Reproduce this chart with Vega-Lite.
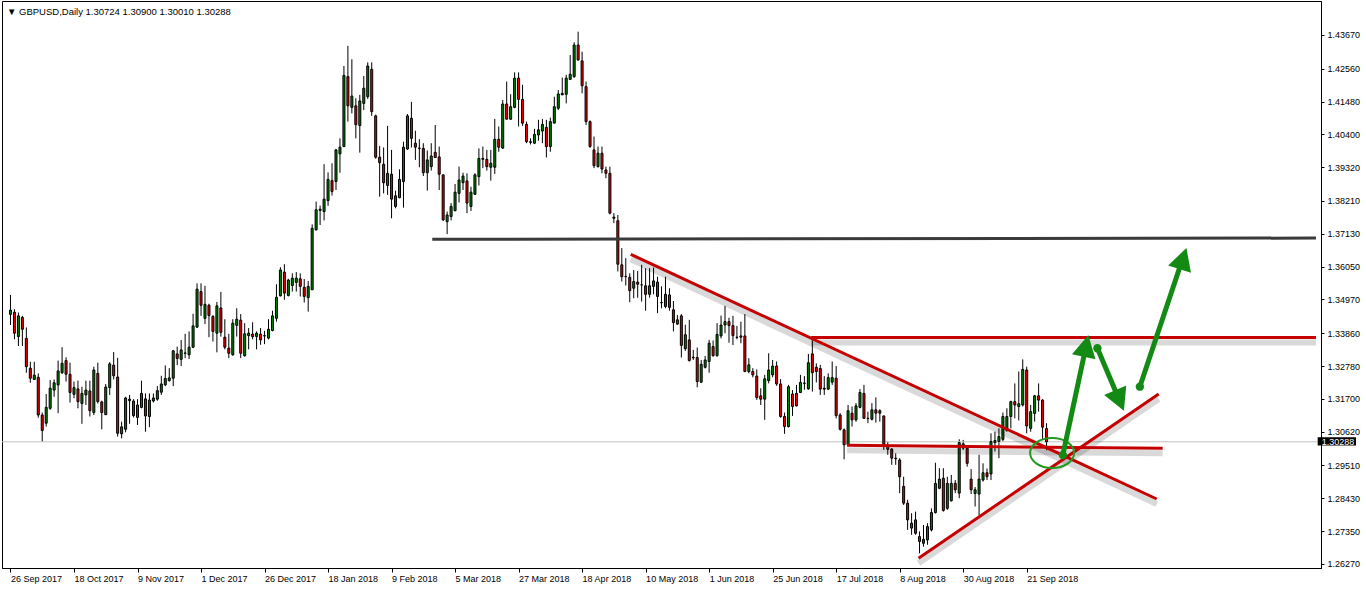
{
"$schema": "https://vega.github.io/schema/vega-lite/v6.json",
"width": 1319, "height": 567,
"autosize": {"type": "none"},
"padding": {"left": 2, "top": 1, "right": 45, "bottom": 21},
"background": "white",
"title": {"text": "▼  GBPUSD,Daily  1.30724 1.30900 1.30010 1.30288", "anchor": "start", "frame": "group", "orient": "top", "offset": -20, "baseline": "middle", "font": "Liberation Sans", "fontSize": 9.5, "fontWeight": "normal", "color": "black", "dx": 5},
"config": {"view": {"stroke": "black", "strokeWidth": 1}, "axis": {"labelFont": "Liberation Sans", "labelFontSize": 9, "labelColor": "black", "domainColor": "black", "tickColor": "black", "grid": false, "title": null, "labelOverlap": false, "labelFlush": false, "labelBound": false}},
"datasets": {
"candles": [
{"i":0,"o":1.3448,"h":1.3512,"l":1.3413,"c":1.3462},{"i":1,"o":1.3455,"h":1.3465,"l":1.3366,"c":1.3386},{"i":2,"o":1.3375,"h":1.3454,"l":1.3344,"c":1.3443},{"i":3,"o":1.3438,"h":1.3443,"l":1.3344,"c":1.3399},{"i":4,"o":1.3369,"h":1.3405,"l":1.3256,"c":1.3276},{"i":5,"o":1.3271,"h":1.3292,"l":1.3223,"c":1.3238},{"i":6,"o":1.3234,"h":1.3292,"l":1.3232,"c":1.3248},{"i":7,"o":1.3241,"h":1.3254,"l":1.3108,"c":1.3117},{"i":8,"o":1.3117,"h":1.3125,"l":1.3029,"c":1.3066},{"i":9,"o":1.309,"h":1.3186,"l":1.3079,"c":1.3142},
{"i":10,"o":1.3139,"h":1.3232,"l":1.3134,"c":1.3205},{"i":11,"o":1.3199,"h":1.3234,"l":1.3177,"c":1.3223},{"i":12,"o":1.3216,"h":1.3296,"l":1.3123,"c":1.3262},{"i":13,"o":1.3256,"h":1.334,"l":1.3252,"c":1.3287},{"i":14,"o":1.3296,"h":1.3307,"l":1.3227,"c":1.3251},{"i":15,"o":1.3251,"h":1.3289,"l":1.3158,"c":1.3191},{"i":16,"o":1.3185,"h":1.3227,"l":1.3172,"c":1.3207},{"i":17,"o":1.3203,"h":1.323,"l":1.3139,"c":1.3161},{"i":18,"o":1.3155,"h":1.321,"l":1.3088,"c":1.3188},{"i":19,"o":1.3183,"h":1.323,"l":1.315,"c":1.3199},
{"i":20,"o":1.3196,"h":1.323,"l":1.3112,"c":1.3131},{"i":21,"o":1.3125,"h":1.3276,"l":1.3117,"c":1.3265},{"i":22,"o":1.3254,"h":1.3289,"l":1.3155,"c":1.3161},{"i":23,"o":1.316,"h":1.3164,"l":1.307,"c":1.3125},{"i":24,"o":1.3118,"h":1.3219,"l":1.3117,"c":1.3209},{"i":25,"o":1.3207,"h":1.3291,"l":1.3183,"c":1.3285},{"i":26,"o":1.3281,"h":1.3324,"l":1.3234,"c":1.3246},{"i":27,"o":1.3242,"h":1.3305,"l":1.3046,"c":1.3057},{"i":28,"o":1.3055,"h":1.3095,"l":1.304,"c":1.3078},{"i":29,"o":1.307,"h":1.3177,"l":1.306,"c":1.3173},
{"i":30,"o":1.3164,"h":1.3183,"l":1.3088,"c":1.3169},{"i":31,"o":1.3163,"h":1.3169,"l":1.3109,"c":1.3115},{"i":32,"o":1.3109,"h":1.3169,"l":1.3084,"c":1.315},{"i":33,"o":1.3142,"h":1.323,"l":1.3139,"c":1.3188},{"i":34,"o":1.317,"h":1.3188,"l":1.3062,"c":1.3114},{"i":35,"o":1.3112,"h":1.3188,"l":1.3077,"c":1.3166},{"i":36,"o":1.3163,"h":1.3188,"l":1.3158,"c":1.3173},{"i":37,"o":1.3169,"h":1.3212,"l":1.3164,"c":1.3197},{"i":38,"o":1.3192,"h":1.3246,"l":1.3183,"c":1.3219},{"i":39,"o":1.3216,"h":1.328,"l":1.3212,"c":1.3237},
{"i":40,"o":1.323,"h":1.3271,"l":1.3227,"c":1.3239},{"i":41,"o":1.3238,"h":1.3331,"l":1.3212,"c":1.3328},{"i":42,"o":1.3318,"h":1.3342,"l":1.3281,"c":1.3303},{"i":43,"o":1.33,"h":1.3364,"l":1.3278,"c":1.3331},{"i":44,"o":1.332,"h":1.3384,"l":1.3304,"c":1.3321},{"i":45,"o":1.3315,"h":1.3392,"l":1.3301,"c":1.334},{"i":46,"o":1.334,"h":1.345,"l":1.3337,"c":1.341},{"i":47,"o":1.3406,"h":1.355,"l":1.3403,"c":1.3531},{"i":48,"o":1.3523,"h":1.355,"l":1.3443,"c":1.3478},{"i":49,"o":1.3435,"h":1.3542,"l":1.3416,"c":1.3481},
{"i":50,"o":1.3478,"h":1.3483,"l":1.3373,"c":1.3444},{"i":51,"o":1.3441,"h":1.3446,"l":1.3359,"c":1.3392},{"i":52,"o":1.3386,"h":1.3489,"l":1.3323,"c":1.3476},{"i":53,"o":1.3469,"h":1.3522,"l":1.3375,"c":1.3389},{"i":54,"o":1.3373,"h":1.3432,"l":1.3333,"c":1.334},{"i":55,"o":1.3337,"h":1.3384,"l":1.3304,"c":1.332},{"i":56,"o":1.3315,"h":1.3432,"l":1.3312,"c":1.3419},{"i":57,"o":1.3412,"h":1.3468,"l":1.3375,"c":1.3432},{"i":58,"o":1.3429,"h":1.3449,"l":1.3304,"c":1.332},{"i":59,"o":1.3312,"h":1.3419,"l":1.3309,"c":1.3384},
{"i":60,"o":1.3378,"h":1.3403,"l":1.3333,"c":1.3386},{"i":61,"o":1.3383,"h":1.3422,"l":1.3366,"c":1.3375},{"i":62,"o":1.3375,"h":1.3392,"l":1.3333,"c":1.3386},{"i":63,"o":1.3383,"h":1.3403,"l":1.3348,"c":1.3364},{"i":64,"o":1.3377,"h":1.3394,"l":1.335,"c":1.3378},{"i":65,"o":1.337,"h":1.3432,"l":1.3366,"c":1.3399},{"i":66,"o":1.3395,"h":1.346,"l":1.3392,"c":1.3443},{"i":67,"o":1.3435,"h":1.3547,"l":1.3424,"c":1.3504},{"i":68,"o":1.3509,"h":1.3603,"l":1.3507,"c":1.3594},{"i":69,"o":1.3587,"h":1.3613,"l":1.3496,"c":1.3518},
{"i":70,"o":1.351,"h":1.3565,"l":1.3507,"c":1.3561},{"i":71,"o":1.3543,"h":1.3583,"l":1.3523,"c":1.3567},{"i":72,"o":1.3553,"h":1.3587,"l":1.3523,"c":1.3567},{"i":73,"o":1.3565,"h":1.3583,"l":1.3507,"c":1.354},{"i":74,"o":1.3537,"h":1.3564,"l":1.3487,"c":1.3507},{"i":75,"o":1.3503,"h":1.3558,"l":1.3457,"c":1.354},{"i":76,"o":1.3529,"h":1.3744,"l":1.3528,"c":1.3731},{"i":77,"o":1.3726,"h":1.3819,"l":1.3724,"c":1.3792},{"i":78,"o":1.379,"h":1.3806,"l":1.3742,"c":1.3794},{"i":79,"o":1.3786,"h":1.3942,"l":1.3757,"c":1.3827},
{"i":80,"o":1.3822,"h":1.3915,"l":1.3805,"c":1.3892},{"i":81,"o":1.3888,"h":1.3945,"l":1.3839,"c":1.3852},{"i":82,"o":1.3885,"h":1.3992,"l":1.3857,"c":1.3989},{"i":83,"o":1.3976,"h":1.4027,"l":1.3914,"c":1.3998},{"i":84,"o":1.4,"h":1.4265,"l":1.3998,"c":1.4234},{"i":85,"o":1.423,"h":1.4331,"l":1.4082,"c":1.4134},{"i":86,"o":1.4129,"h":1.4287,"l":1.4109,"c":1.4166},{"i":87,"o":1.4134,"h":1.4159,"l":1.4027,"c":1.4072},{"i":88,"o":1.4069,"h":1.417,"l":1.398,"c":1.415},{"i":89,"o":1.4142,"h":1.4232,"l":1.412,"c":1.4192},
{"i":90,"o":1.4164,"h":1.4277,"l":1.4157,"c":1.4265},{"i":91,"o":1.4254,"h":1.4277,"l":1.4101,"c":1.4115},{"i":92,"o":1.4101,"h":1.4105,"l":1.396,"c":1.3965},{"i":93,"o":1.3965,"h":1.4002,"l":1.3835,"c":1.3947},{"i":94,"o":1.3942,"h":1.3997,"l":1.3846,"c":1.3881},{"i":95,"o":1.3872,"h":1.4068,"l":1.3841,"c":1.3912},{"i":96,"o":1.3909,"h":1.3989,"l":1.3764,"c":1.3827},{"i":97,"o":1.3803,"h":1.3855,"l":1.3797,"c":1.3838},{"i":98,"o":1.3832,"h":1.3925,"l":1.383,"c":1.3892},{"i":99,"o":1.3885,"h":1.4016,"l":1.3799,"c":1.3998},
{"i":100,"o":1.3992,"h":1.4107,"l":1.3989,"c":1.4101},{"i":101,"o":1.4093,"h":1.4147,"l":1.3997,"c":1.4027},{"i":102,"o":1.4011,"h":1.4052,"l":1.3956,"c":1.3998},{"i":103,"o":1.3994,"h":1.4024,"l":1.3932,"c":1.3995},{"i":104,"o":1.3994,"h":1.4011,"l":1.3903,"c":1.3914},{"i":105,"o":1.3914,"h":1.3987,"l":1.3855,"c":1.3956},{"i":106,"o":1.3934,"h":1.4011,"l":1.3921,"c":1.3969},{"i":107,"o":1.3981,"h":1.4071,"l":1.3962,"c":1.3964},{"i":108,"o":1.3966,"h":1.4,"l":1.3857,"c":1.3909},{"i":109,"o":1.3907,"h":1.3907,"l":1.3755,"c":1.3759},
{"i":110,"o":1.3753,"h":1.3786,"l":1.3712,"c":1.3775},{"i":111,"o":1.377,"h":1.3814,"l":1.3757,"c":1.3803},{"i":112,"o":1.3789,"h":1.3877,"l":1.3787,"c":1.385},{"i":113,"o":1.3846,"h":1.3934,"l":1.3816,"c":1.389},{"i":114,"o":1.3881,"h":1.3914,"l":1.3857,"c":1.3903},{"i":115,"o":1.3887,"h":1.3912,"l":1.3781,"c":1.3814},{"i":116,"o":1.3803,"h":1.3868,"l":1.3788,"c":1.385},{"i":117,"o":1.3843,"h":1.3912,"l":1.3841,"c":1.3907},{"i":118,"o":1.3901,"h":1.3994,"l":1.3872,"c":1.3961},{"i":119,"o":1.3961,"h":1.4,"l":1.3929,"c":1.3958},
{"i":120,"o":1.3958,"h":1.3989,"l":1.3921,"c":1.3934},{"i":121,"o":1.3932,"h":1.3989,"l":1.3888,"c":1.3945},{"i":122,"o":1.3932,"h":1.4091,"l":1.391,"c":1.4024},{"i":123,"o":1.4024,"h":1.4066,"l":1.3983,"c":1.3998},{"i":124,"o":1.3995,"h":1.4153,"l":1.3992,"c":1.414},{"i":125,"o":1.414,"h":1.4214,"l":1.409,"c":1.409},{"i":126,"o":1.409,"h":1.4172,"l":1.4088,"c":1.4131},{"i":127,"o":1.4129,"h":1.4244,"l":1.4126,"c":1.4225},{"i":128,"o":1.4225,"h":1.4244,"l":1.4066,"c":1.4155},{"i":129,"o":1.4155,"h":1.4203,"l":1.4068,"c":1.4077},
{"i":130,"o":1.4073,"h":1.4082,"l":1.4011,"c":1.4016},{"i":131,"o":1.4016,"h":1.4027,"l":1.4007,"c":1.4014},{"i":132,"o":1.4011,"h":1.4058,"l":1.4008,"c":1.404},{"i":133,"o":1.4038,"h":1.4088,"l":1.4019,"c":1.4055},{"i":134,"o":1.4051,"h":1.4091,"l":1.4011,"c":1.4073},{"i":135,"o":1.4063,"h":1.4088,"l":1.3964,"c":1.4},{"i":136,"o":1.4,"h":1.4095,"l":1.3983,"c":1.4082},{"i":137,"o":1.4077,"h":1.4164,"l":1.4077,"c":1.4131},{"i":138,"o":1.4126,"h":1.4186,"l":1.412,"c":1.4173},{"i":139,"o":1.417,"h":1.4227,"l":1.417,"c":1.4175},
{"i":140,"o":1.4172,"h":1.4236,"l":1.4142,"c":1.4225},{"i":141,"o":1.4221,"h":1.4301,"l":1.4219,"c":1.4238},{"i":142,"o":1.423,"h":1.4343,"l":1.4226,"c":1.4334},{"i":143,"o":1.4334,"h":1.4378,"l":1.4282,"c":1.4285},{"i":144,"o":1.4282,"h":1.4312,"l":1.4175,"c":1.42},{"i":145,"o":1.4197,"h":1.4214,"l":1.4071,"c":1.4082},{"i":146,"o":1.4082,"h":1.4086,"l":1.3996,"c":1.4},{"i":147,"o":1.3989,"h":1.4033,"l":1.3929,"c":1.3937},{"i":148,"o":1.3934,"h":1.4,"l":1.3931,"c":1.3978},{"i":149,"o":1.3978,"h":1.4,"l":1.3912,"c":1.3926},
{"i":150,"o":1.3923,"h":1.3934,"l":1.3896,"c":1.3912},{"i":151,"o":1.3912,"h":1.3934,"l":1.3777,"c":1.3781},{"i":152,"o":1.3768,"h":1.3781,"l":1.3748,"c":1.3764},{"i":153,"o":1.3756,"h":1.3775,"l":1.3589,"c":1.3613},{"i":154,"o":1.3611,"h":1.3666,"l":1.3556,"c":1.3572},{"i":155,"o":1.3573,"h":1.3633,"l":1.3543,"c":1.3572},{"i":156,"o":1.357,"h":1.3583,"l":1.3488,"c":1.3526},{"i":157,"o":1.3534,"h":1.3594,"l":1.3501,"c":1.3556},{"i":158,"o":1.3554,"h":1.3591,"l":1.3503,"c":1.3547},{"i":159,"o":1.3545,"h":1.3611,"l":1.349,"c":1.3545},
{"i":160,"o":1.3542,"h":1.36,"l":1.346,"c":1.3514},{"i":161,"o":1.3514,"h":1.36,"l":1.3503,"c":1.3542},{"i":162,"o":1.354,"h":1.3602,"l":1.3514,"c":1.3558},{"i":163,"o":1.3554,"h":1.3572,"l":1.3452,"c":1.3507},{"i":164,"o":1.3487,"h":1.354,"l":1.3468,"c":1.3486},{"i":165,"o":1.3474,"h":1.3572,"l":1.3468,"c":1.3514},{"i":166,"o":1.3512,"h":1.3534,"l":1.346,"c":1.3471},{"i":167,"o":1.3463,"h":1.3492,"l":1.3392,"c":1.3421},{"i":168,"o":1.3416,"h":1.3446,"l":1.3414,"c":1.343},{"i":169,"o":1.3443,"h":1.3449,"l":1.3306,"c":1.3346},
{"i":170,"o":1.3335,"h":1.3414,"l":1.3328,"c":1.3381},{"i":171,"o":1.3364,"h":1.343,"l":1.3293,"c":1.3296},{"i":172,"o":1.3307,"h":1.3331,"l":1.3298,"c":1.3305},{"i":173,"o":1.3306,"h":1.3339,"l":1.3208,"c":1.3227},{"i":174,"o":1.3225,"h":1.3298,"l":1.3222,"c":1.3284},{"i":175,"o":1.3274,"h":1.3311,"l":1.327,"c":1.3298},{"i":176,"o":1.3293,"h":1.3364,"l":1.3256,"c":1.3353},{"i":177,"o":1.3342,"h":1.3362,"l":1.3309,"c":1.3312},{"i":178,"o":1.3312,"h":1.3419,"l":1.3309,"c":1.3382},{"i":179,"o":1.3377,"h":1.3444,"l":1.3369,"c":1.3413},
{"i":180,"o":1.3413,"h":1.3476,"l":1.3386,"c":1.3424},{"i":181,"o":1.3424,"h":1.3437,"l":1.3355,"c":1.3411},{"i":182,"o":1.3411,"h":1.3443,"l":1.3347,"c":1.3378},{"i":183,"o":1.3373,"h":1.341,"l":1.3366,"c":1.3372},{"i":184,"o":1.3377,"h":1.3424,"l":1.3353,"c":1.3373},{"i":185,"o":1.3377,"h":1.3449,"l":1.3258,"c":1.326},{"i":186,"o":1.326,"h":1.3304,"l":1.3254,"c":1.3282},{"i":187,"o":1.326,"h":1.3271,"l":1.3241,"c":1.3249},{"i":188,"o":1.3245,"h":1.3267,"l":1.3167,"c":1.3174},{"i":189,"o":1.318,"h":1.3205,"l":1.315,"c":1.3169},
{"i":190,"o":1.3169,"h":1.3249,"l":1.3101,"c":1.3236},{"i":191,"o":1.323,"h":1.332,"l":1.3221,"c":1.3265},{"i":192,"o":1.3249,"h":1.3298,"l":1.3241,"c":1.3278},{"i":193,"o":1.3278,"h":1.3293,"l":1.3213,"c":1.3219},{"i":194,"o":1.3219,"h":1.3235,"l":1.3108,"c":1.3112},{"i":195,"o":1.3112,"h":1.3125,"l":1.3055,"c":1.3079},{"i":196,"o":1.3079,"h":1.3216,"l":1.3076,"c":1.321},{"i":197,"o":1.3186,"h":1.3199,"l":1.3114,"c":1.3145},{"i":198,"o":1.3188,"h":1.3216,"l":1.3145,"c":1.3147},{"i":199,"o":1.3191,"h":1.3249,"l":1.3189,"c":1.3224},
{"i":200,"o":1.3222,"h":1.3245,"l":1.32,"c":1.3221},{"i":201,"o":1.3203,"h":1.3318,"l":1.32,"c":1.3289},{"i":202,"o":1.3318,"h":1.3363,"l":1.3194,"c":1.3256},{"i":203,"o":1.3274,"h":1.3287,"l":1.3224,"c":1.326},{"i":204,"o":1.327,"h":1.3282,"l":1.3183,"c":1.3202},{"i":205,"o":1.3205,"h":1.3245,"l":1.3183,"c":1.3202},{"i":206,"o":1.3202,"h":1.3254,"l":1.3199,"c":1.324},{"i":207,"o":1.3225,"h":1.3293,"l":1.3216,"c":1.324},{"i":208,"o":1.3238,"h":1.3278,"l":1.3106,"c":1.3115},{"i":209,"o":1.3117,"h":1.3123,"l":1.3066,"c":1.307},
{"i":210,"o":1.3068,"h":1.3073,"l":1.2971,"c":1.3019},{"i":211,"o":1.3019,"h":1.315,"l":1.3015,"c":1.3131},{"i":212,"o":1.3123,"h":1.3145,"l":1.3079,"c":1.3101},{"i":213,"o":1.3101,"h":1.3156,"l":1.3095,"c":1.3147},{"i":214,"o":1.3142,"h":1.3202,"l":1.3139,"c":1.3191},{"i":215,"o":1.3188,"h":1.3216,"l":1.3106,"c":1.3106},{"i":216,"o":1.3106,"h":1.3128,"l":1.309,"c":1.3105},{"i":217,"o":1.3103,"h":1.3156,"l":1.3099,"c":1.3134},{"i":218,"o":1.3134,"h":1.3175,"l":1.3092,"c":1.3123},{"i":219,"o":1.3123,"h":1.3136,"l":1.3095,"c":1.3131},
{"i":220,"o":1.3114,"h":1.3114,"l":1.3002,"c":1.3013},{"i":221,"o":1.3015,"h":1.3029,"l":1.2986,"c":1.3004},{"i":222,"o":1.3005,"h":1.3008,"l":1.2953,"c":1.2975},{"i":223,"o":1.2975,"h":1.2991,"l":1.2953,"c":1.2973},{"i":224,"o":1.2969,"h":1.2975,"l":1.286,"c":1.2914},{"i":225,"o":1.2882,"h":1.2914,"l":1.2821,"c":1.2827},{"i":226,"o":1.2827,"h":1.2838,"l":1.2739,"c":1.2772},{"i":227,"o":1.2745,"h":1.2794,"l":1.2723,"c":1.2761},{"i":228,"o":1.2772,"h":1.2799,"l":1.2723,"c":1.2728},{"i":229,"o":1.2717,"h":1.2734,"l":1.2662,"c":1.2701},
{"i":230,"o":1.2695,"h":1.2755,"l":1.2684,"c":1.2708},{"i":231,"o":1.2706,"h":1.2761,"l":1.269,"c":1.275},{"i":232,"o":1.2739,"h":1.281,"l":1.2734,"c":1.2796},{"i":233,"o":1.2796,"h":1.296,"l":1.2793,"c":1.2892},{"i":234,"o":1.2876,"h":1.2942,"l":1.2873,"c":1.2906},{"i":235,"o":1.2909,"h":1.2942,"l":1.2799,"c":1.2803},{"i":236,"o":1.281,"h":1.2914,"l":1.2805,"c":1.2892},{"i":237,"o":1.2835,"h":1.292,"l":1.2832,"c":1.2892},{"i":238,"o":1.2892,"h":1.2903,"l":1.286,"c":1.2871},{"i":239,"o":1.286,"h":1.3037,"l":1.2843,"c":1.3026},
{"i":240,"o":1.3022,"h":1.3035,"l":1.3002,"c":1.3008},{"i":241,"o":1.3008,"h":1.3013,"l":1.2947,"c":1.2958},{"i":242,"o":1.2906,"h":1.2939,"l":1.2857,"c":1.2871},{"i":243,"o":1.2859,"h":1.288,"l":1.2816,"c":1.2871},{"i":244,"o":1.2857,"h":1.2986,"l":1.2788,"c":1.2906},{"i":245,"o":1.2903,"h":1.2958,"l":1.2898,"c":1.2927},{"i":246,"o":1.2927,"h":1.2941,"l":1.2903,"c":1.2914},{"i":247,"o":1.2923,"h":1.3057,"l":1.2903,"c":1.303},{"i":248,"o":1.3026,"h":1.3062,"l":1.2997,"c":1.3033},{"i":249,"o":1.303,"h":1.3073,"l":1.2975,"c":1.3046},
{"i":250,"o":1.3037,"h":1.3125,"l":1.303,"c":1.3112},{"i":251,"o":1.3066,"h":1.3139,"l":1.3062,"c":1.3112},{"i":252,"o":1.3112,"h":1.3164,"l":1.3073,"c":1.3161},{"i":253,"o":1.3161,"h":1.3221,"l":1.3106,"c":1.315},{"i":254,"o":1.3145,"h":1.326,"l":1.3099,"c":1.3154},{"i":255,"o":1.315,"h":1.33,"l":1.3145,"c":1.3267},{"i":256,"o":1.3265,"h":1.3276,"l":1.3057,"c":1.3081},{"i":257,"o":1.3073,"h":1.315,"l":1.3062,"c":1.3128},{"i":258,"o":1.3122,"h":1.3183,"l":1.3095,"c":1.318},{"i":259,"o":1.318,"h":1.3221,"l":1.3128,"c":1.3166},
{"i":260,"o":1.3166,"h":1.3169,"l":1.3035,"c":1.3077},{"i":261,"o":1.30724,"h":1.309,"l":1.3001,"c":1.30288}
],
"redlines": [
{"id":"desc","i":156.25,"p":1.36456},{"id":"desc","i":288.75,"p":1.28407},
{"id":"res","i":201.7,"p":1.3372},{"id":"res","i":328.875,"p":1.3372},
{"id":"flat","i":210.75,"p":1.30173},{"id":"flat","i":290.25,"p":1.30074},
{"id":"asc","i":228.75,"p":1.26456},{"id":"asc","i":289.25,"p":1.31861}
],
"blackline": [{"i":106.25,"p":1.3695},{"i":328.875,"p":1.3699}],
"arrows": [
{"id":"a","i":265.1,"p":1.29854},{"id":"a","i":270.7,"p":1.33285},
{"id":"b","i":273.8,"p":1.33364},{"id":"b","i":278.9,"p":1.31798},
{"id":"c","i":284.5,"p":1.32101},{"id":"c","i":294.9,"p":1.36163}
],
"heads": [{"i":270.9,"p":1.33415,"a":12},{"i":279.3,"p":1.31677,"a":157},{"i":295.3,"p":1.36288,"a":18}],
"dots": [{"i":265.1,"p":1.29854},{"i":273.8,"p":1.33364},{"i":284.5,"p":1.32101}],
"ellipse": [{"i":262.4,"p":1.2992}],
"price": [{"label":"1.30288","p":1.30288,"top":1.30437,"bottom":1.30167,"x0":329.3,"x1":338.95,"xt":330.3}]
},
"layer": [
{"data": {"name": "candles"}, "mark": {"type": "rule", "color": "black", "strokeWidth": 1},
 "encoding": {
  "x": {"field": "i", "type": "quantitative", "scale": {"domain": [-0.875, 328.875], "nice": false, "zero": false}, "title": null,
        "axis": {"values": [0,16,32,48,64,80,96,112,128,144,160,176,192,208,224,240,256], "tickCount": 40, "labelExpr": "['26 Sep 2017','18 Oct 2017','9 Nov 2017','1 Dec 2017','26 Dec 2017','18 Jan 2018','9 Feb 2018','5 Mar 2018','27 Mar 2018','18 Apr 2018','10 May 2018','1 Jun 2018','25 Jun 2018','17 Jul 2018','8 Aug 2018','30 Aug 2018','21 Sep 2018'][round(datum.value/16)]", "labelAlign": "left", "labelBaseline": "top", "labelPadding": 2, "tickSize": 4, "labelFlush": false, "labelOverlap": false}},
  "y": {"field": "l", "type": "quantitative", "scale": {"domain": [1.26137, 1.44788], "nice": false, "zero": false}, "title": null,
        "axis": {"orient": "right", "values": [1.2627,1.2735,1.2843,1.2951,1.3062,1.317,1.3278,1.3386,1.3497,1.3605,1.3713,1.3821,1.3932,1.404,1.4148,1.4256,1.4367], "tickCount": 40, "format": ".5f", "labelAlign": "left", "labelBaseline": "middle", "labelPadding": 3, "tickSize": 3, "labelFlush": false, "labelOverlap": false}},
  "y2": {"field": "h"}}},
{"data": {"name": "price"}, "mark": {"type": "rule", "color": "#c0c0c0", "strokeWidth": 1},
 "encoding": {"y": {"field": "p", "type": "quantitative", "title": null}}},
{"data": {"name": "candles"}, "mark": {"type": "bar", "size": 2, "stroke": "black", "strokeWidth": 1},
 "encoding": {
  "x": {"field": "i", "type": "quantitative", "title": null},
  "y": {"field": "o", "type": "quantitative", "title": null},
  "y2": {"field": "c"},
  "color": {"condition": {"test": "datum.c >= datum.o", "value": "#008000"}, "value": "#f00000"}}},
{"data": {"name": "blackline"}, "mark": {"type": "line", "color": "#3a3a3a", "strokeWidth": 3},
 "encoding": {"x": {"field": "i", "type": "quantitative", "title": null}, "y": {"field": "p", "type": "quantitative", "title": null}}},
{"data": {"name": "redlines"}, "mark": {"type": "line", "color": "#000000", "opacity": 0.15, "strokeWidth": 6, "yOffset": 5},
 "encoding": {"x": {"field": "i", "type": "quantitative", "title": null}, "y": {"field": "p", "type": "quantitative", "title": null}, "detail": {"field": "id"}}},
{"data": {"name": "redlines"}, "mark": {"type": "line", "color": "#c40000", "strokeWidth": 3},
 "encoding": {"x": {"field": "i", "type": "quantitative", "title": null}, "y": {"field": "p", "type": "quantitative", "title": null}, "detail": {"field": "id"}}},
{"data": {"name": "ellipse"}, "mark": {"type": "point", "shape": "M -1 0 A 1 0.68 0 1 1 1 0 A 1 0.68 0 1 1 -1 0 Z", "size": 1936, "filled": false, "stroke": "#1f9a1f", "strokeWidth": 2, "opacity": 1},
 "encoding": {"x": {"field": "i", "type": "quantitative", "title": null}, "y": {"field": "p", "type": "quantitative", "title": null}}},
{"data": {"name": "arrows"}, "mark": {"type": "line", "color": "#138a13", "strokeWidth": 5},
 "encoding": {"x": {"field": "i", "type": "quantitative", "title": null}, "y": {"field": "p", "type": "quantitative", "title": null}, "detail": {"field": "id"}}},
{"data": {"name": "heads"}, "mark": {"type": "point", "shape": "M 0 -1 L 1 0.85 L -1 0.85 Z", "size": 576, "filled": true, "color": "#138a13", "opacity": 1},
 "encoding": {"x": {"field": "i", "type": "quantitative", "title": null}, "y": {"field": "p", "type": "quantitative", "title": null}, "angle": {"field": "a", "type": "quantitative", "scale": null}}},
{"data": {"name": "dots"}, "mark": {"type": "point", "shape": "circle", "size": 70, "filled": true, "color": "#138a13", "opacity": 1},
 "encoding": {"x": {"field": "i", "type": "quantitative", "title": null}, "y": {"field": "p", "type": "quantitative", "title": null}}},
{"data": {"name": "price"}, "mark": {"type": "rect", "color": "black"},
 "encoding": {"x": {"field": "x0", "type": "quantitative", "title": null}, "x2": {"field": "x1"}, "y": {"field": "top", "type": "quantitative", "title": null}, "y2": {"field": "bottom"}}},
{"data": {"name": "price"}, "mark": {"type": "text", "color": "white", "font": "Liberation Sans", "fontSize": 9, "align": "left", "baseline": "middle"},
 "encoding": {"x": {"field": "xt", "type": "quantitative", "title": null}, "y": {"field": "p", "type": "quantitative", "title": null}, "text": {"field": "label"}}}
]
}
